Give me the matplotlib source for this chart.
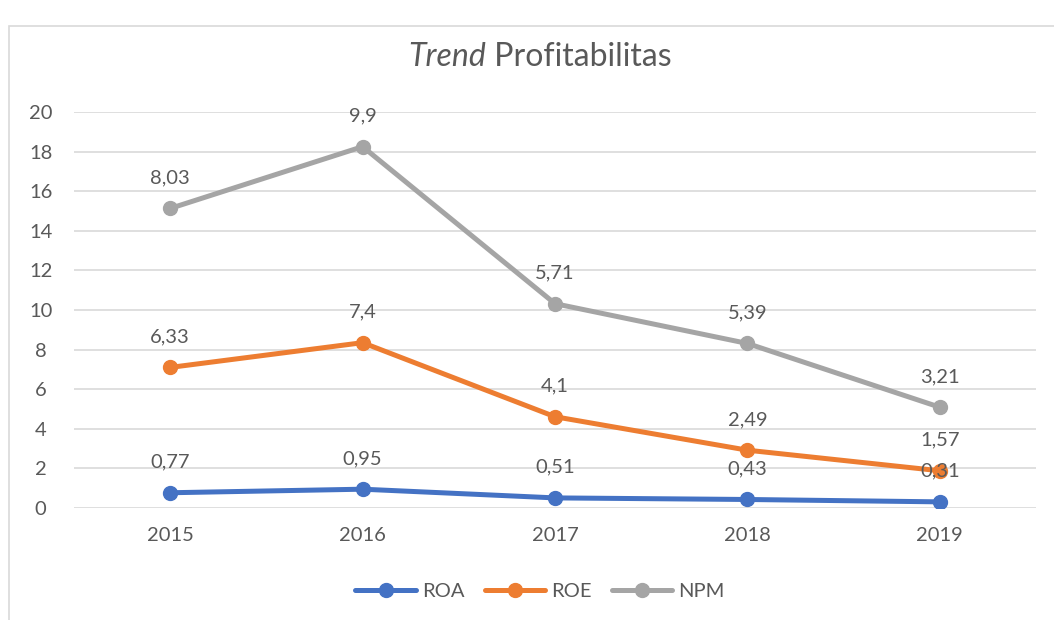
import matplotlib
matplotlib.use("Agg")
import matplotlib.pyplot as plt
from matplotlib.patches import Rectangle

years = ["2015", "2016", "2017", "2018", "2019"]
roa = [0.77, 0.95, 0.51, 0.43, 0.31]
roe = [6.33, 7.4, 4.1, 2.49, 1.57]
npm = [8.03, 9.9, 5.71, 5.39, 3.21]
series_names = ["ROA", "ROE", "NPM"]
colors = ["#4472C4", "#ED7D31", "#A5A5A5"]

plt.rcParams['font.family'] = ['Lato', 'DejaVu Sans']
txt = "#595959"
fs = 14.5

fig = plt.figure(figsize=(10.54, 6.20), dpi=100)
fig.patches.append(Rectangle((9/1054, -0.1), 1.2, 1 - 26/620 + 0.1, transform=fig.transFigure,
                             fill=False, edgecolor="#D9D9D9", linewidth=1.2))
ax = fig.add_axes([74/1054, 1 - 508/620, (1036 - 74)/1054, (508 - 112)/620])

x = list(range(len(years)))
cum = [0.0] * len(years)
handles = []
for vals, name, c in zip([roa, roe, npm], series_names, colors):
    cum = [a + b for a, b in zip(cum, vals)]
    h, = ax.plot(x, cum, color=c, lw=3.6, marker='o', markersize=10, label=name,
                 solid_capstyle='round', zorder=3)
    handles.append(h)
    for xi, yi, v in zip(x, cum, vals):
        ax.annotate(f"{v:g}".replace('.', ','), (xi, yi), xytext=(0, 22), textcoords='offset points',
                    ha='center', va='center', fontsize=fs, color=txt, zorder=4)

ax.set_xlim(-0.5, len(years) - 0.5)
ax.set_ylim(0, 20)
ax.set_yticks(range(0, 21, 2))
ax.set_xticks(x)
ax.set_xticklabels(years)
ax.tick_params(axis='both', length=0, labelsize=fs, labelcolor=txt)
ax.tick_params(axis='x', pad=14)
ax.tick_params(axis='y', pad=24)
for lbl in ax.get_yticklabels():
    lbl.set_horizontalalignment('center')
ax.grid(axis='y', color="#D9D9D9", lw=1.2)
ax.set_axisbelow(True)
for s in ax.spines.values():
    s.set_visible(False)

# Title with italic first word
t1 = fig.text(0, 0.908, "Trend", fontsize=23, style='italic', color=txt, va='center', ha='left')
t2 = fig.text(0, 0.908, " Profitabilitas", fontsize=23, color=txt, va='center', ha='left')
fig.canvas.draw()
r = fig.canvas.get_renderer()
w1 = t1.get_window_extent(r).width
w2 = t2.get_window_extent(r).width
cx = 540
start = cx - (w1 + w2) / 2
t1.set_x(start / 1054)
t2.set_x((start + w1) / 1054)

fig.legend(handles=handles, labels=series_names, loc='center', bbox_to_anchor=(540/1054, 1 - 591/620),
           ncol=3, frameon=False, fontsize=fs, handlelength=3.0, columnspacing=1.0,
           handletextpad=0.3, labelcolor=txt)

fig.savefig("out.png", dpi=100)
